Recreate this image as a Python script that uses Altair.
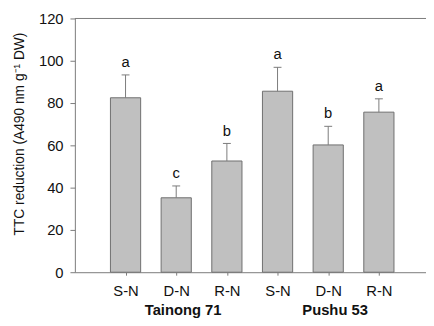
import altair as alt
import pandas as pd

treatments = ["S-N", "D-N", "R-N", "S-N", "D-N", "R-N"]
cultivars = ["Tainong 71", "Tainong 71", "Tainong 71", "Pushu 53", "Pushu 53", "Pushu 53"]
values = [82.5, 35.2, 52.6, 85.6, 60.2, 75.7]
errors = [10.8, 5.6, 8.3, 11.3, 8.8, 6.3]
letters = ["a", "c", "b", "a", "b", "a"]
positions = [1, 2, 3, 4, 5, 6]
group_names = ["Tainong 71", "Pushu 53"]
group_pos = [2, 5]

df = pd.DataFrame({
    "pos": positions, "treat": treatments, "cult": cultivars,
    "val": values, "err": errors, "letter": letters,
})
df["top"] = df["val"] + df["err"]
df["x0"] = df["pos"] - 0.298
df["x1"] = df["pos"] + 0.298
df["c0"] = df["pos"] - 0.078
df["c1"] = df["pos"] + 0.078
df["zero"] = 0

gdf = pd.DataFrame({"name": group_names, "pos": group_pos})

FONT = "Liberation Sans"
GRAY = "#7a7a7a"
xscale = alt.Scale(domain=[0, 6.93], nice=False, zero=False)
yscale = alt.Scale(domain=[0, 120], nice=False)

label_expr = "[''," + ",".join("'%s'" % t for t in treatments) + "][datum.value]"

base = alt.Chart(df)

bars = base.mark_bar(fill="#c0c0c0", stroke="#6e6e6e", strokeWidth=1).encode(
    x=alt.X("x0:Q", scale=xscale, axis=alt.Axis(
        values=positions, labelExpr=label_expr, title=None, grid=False,
        domainColor=GRAY, tickColor=GRAY, tickSize=3, labelPadding=9,
        labelFont=FONT, labelFontSize=15, labelColor="#111")),
    x2="x1:Q",
    y=alt.Y("val:Q", scale=yscale, axis=alt.Axis(
        values=[0, 20, 40, 60, 80, 100, 120], grid=False,
        title="TTC reduction (A490 nm g\u207b\u00b9 DW)",
        titleFont=FONT, titleFontSize=14, titleFontWeight="normal", titleColor="#111",
        titleX=-56, titleY=117, titleBaseline="middle",
        domainColor=GRAY, tickColor=GRAY, tickSize=5, labelPadding=7,
        labelFont=FONT, labelFontSize=15, labelColor="#111")),
    y2="zero:Q",
)

err_line = base.mark_rule(color=GRAY, strokeWidth=1).encode(
    x="pos:Q", y="val:Q", y2="top:Q")
err_cap = base.mark_rule(color=GRAY, strokeWidth=1).encode(
    x="c0:Q", x2="c1:Q", y="top:Q")

txt = base.mark_text(font=FONT, fontSize=15, color="#111", baseline="alphabetic", dy=-8).encode(
    x="pos:Q", y="top:Q", text="letter:N")

top_rule = alt.Chart(pd.DataFrame({"v": [120]})).mark_rule(color=GRAY, strokeWidth=1).encode(
    y=alt.Y("v:Q", scale=yscale), x=alt.value(0), x2=alt.value(357))

groups = alt.Chart(gdf).mark_text(font=FONT, fontSize=15, fontWeight="bold", color="#111",
                                  baseline="alphabetic", dx=7).encode(
    x=alt.X("pos:Q", scale=xscale), y=alt.value(301), text="name:N")

chart = alt.layer(bars, err_line, err_cap, txt, top_rule, groups).properties(
    width=357, height=258,
    autosize=alt.AutoSizeParams(type="none"),
    padding={"left": 68, "top": 8, "right": 0, "bottom": 50},
).configure_view(stroke=None)

chart.save("out.html", embed_options={"renderer": "svg", "actions": False})
